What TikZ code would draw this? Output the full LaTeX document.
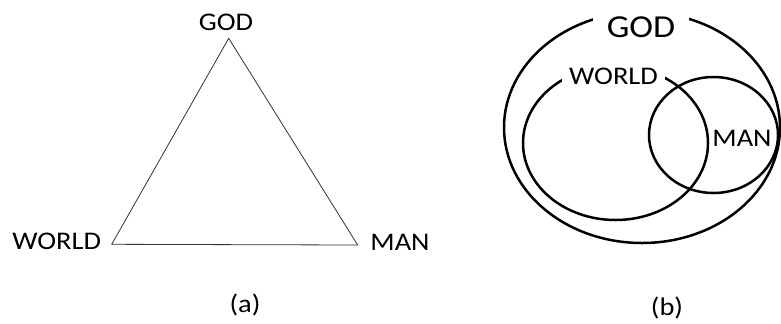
\documentclass[tikz,border=0pt]{standalone}
\usepackage{fontspec}
\setmainfont{Carlito}[FakeStretch=1.12]
\usetikzlibrary{shapes.geometric}

\begin{document}
\begin{tikzpicture}[
    x=0.5pt, y=-0.5pt,
    lbl/.style={
        inner sep=0pt,
        font=\fontsize{12.7}{14}\selectfont
    },
    biglbl/.style={
        inner sep=0pt,
        font=\fontsize{16}{18}\selectfont
    },
    gap/.style={
        fill=white,
        inner xsep=7pt,
        inner ysep=4pt
    },
    edge/.style={
        draw=black!80,
        line width=0.4pt
    },
    ring/.style={
        ellipse,
        draw=black,
        line width=1.25pt,
        inner sep=0pt
    }
]
\useasboundingbox (0,0) rectangle (781,323);

%--- (a) triangle ---
\coordinate (apex)  at (228.7, 38.3);
\coordinate (worldv) at (111.7, 244.3);
\coordinate (manv)  at (357.7, 245.0);
\draw[edge] (apex) -- (worldv) -- (manv) -- cycle;

\node[lbl] (godA)   at (226.0, 22.5)  {GOD};
\node[lbl] (worldA) at (56.7, 241.5)  {WORLD};
\node[lbl] (manA)   at (400.0, 242.0) {MAN};
\node[lbl] (capA)   at (245.0, 305.0) {(a)};

%--- (b) nested rings ---
\node[ring, minimum width=138pt, minimum height=115.5pt]
    (godB) at (642.0, 127.5) {};
\node[biglbl, gap] (godBlbl) at (641.0, 27.0) {GOD};

\node[ring, minimum width=92.5pt, minimum height=77pt]
    (worldB) at (615.5, 143.0) {};
\node[lbl, gap, inner xsep=3.5pt, inner ysep=3pt]
    (worldBlbl) at (613.5, 76.0) {WORLD};

\node[ring, minimum width=64.5pt, minimum height=58pt]
    (manB) at (713.5, 135.0) {};
\node[lbl] (manBlbl) at (742.0, 138.0) {MAN};

\node[lbl] (capB) at (667.0, 308.0) {(b)};

\end{tikzpicture}
\end{document}
